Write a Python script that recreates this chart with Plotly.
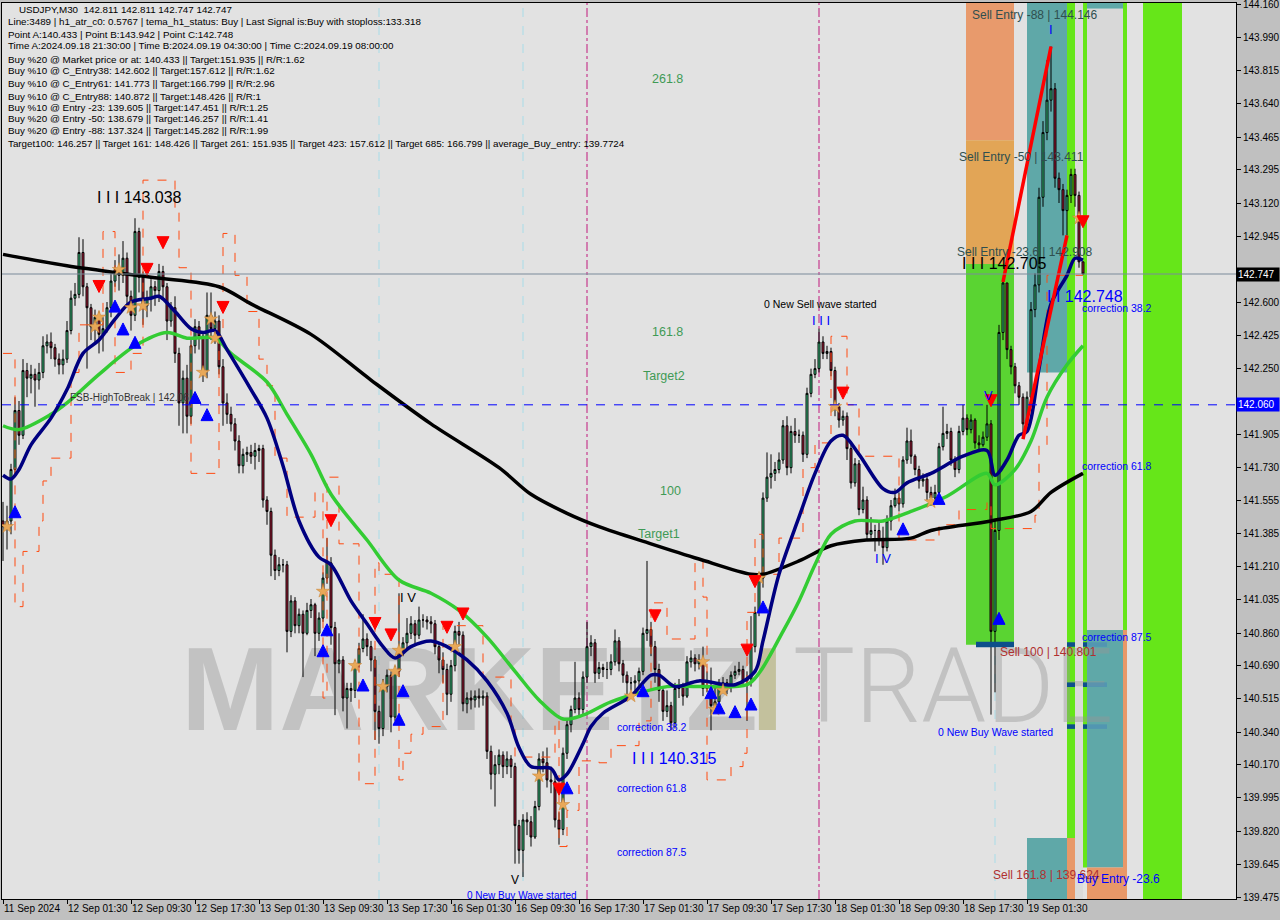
import plotly.graph_objects as go

# ---------------- data ----------------
open_first = 141.45
closes = [
141.42,141.45,141.72,142.03,141.90,142.24,142.20,142.22,142.19,142.23,
142.37,142.39,142.36,142.30,142.27,142.30,142.45,142.62,142.64,142.86,
142.68,142.57,142.47,142.52,142.43,142.46,142.57,142.71,142.77,142.74,
142.83,142.63,142.53,142.97,142.73,142.58,142.62,142.68,142.66,142.76,
142.68,142.50,142.57,142.33,142.07,142.20,142.00,142.37,142.47,142.42,
142.24,142.53,142.46,142.50,142.26,142.07,142.01,141.96,141.87,141.74,
141.80,141.81,141.79,141.82,141.83,141.56,141.50,141.27,141.19,141.22,
141.22,140.87,141.03,140.90,140.96,140.86,140.98,141.01,140.86,140.94,
141.15,141.23,140.89,140.70,140.72,140.52,140.57,140.56,140.70,140.78,
140.83,140.79,140.72,140.45,140.36,140.58,140.64,140.42,140.66,140.77,
140.81,140.86,140.91,140.85,140.93,140.93,140.92,140.91,140.79,140.72,
140.67,140.54,140.69,140.87,140.85,140.49,140.52,140.51,140.53,140.52,
140.53,140.24,140.12,140.17,140.22,140.16,140.20,140.16,139.85,139.72,
139.88,139.87,139.79,139.95,140.20,140.18,140.09,140.08,139.88,139.83,
140.23,140.38,140.46,140.52,140.46,140.63,140.79,140.81,140.65,140.68,
140.67,140.67,140.71,140.82,140.70,140.64,140.60,140.60,140.61,140.66,
140.86,140.88,140.79,140.67,140.56,140.45,140.48,140.39,140.57,140.58,
140.53,140.71,140.73,140.70,140.72,140.57,140.58,140.48,140.50,140.59,
140.60,140.58,140.64,140.66,140.67,140.61,140.62,140.79,140.97,141.15,
141.57,141.68,141.70,141.72,141.77,141.95,141.73,141.92,141.90,141.90,
141.80,142.12,142.22,142.25,142.39,142.33,142.34,142.24,142.05,141.98,
142.00,141.83,141.65,141.75,141.51,141.56,141.38,141.40,141.40,141.35,
141.31,141.45,141.53,141.57,141.54,141.77,141.87,141.79,141.72,141.66,
141.67,141.60,141.57,141.60,141.84,141.91,141.92,141.77,141.72,141.92,
141.99,141.93,141.98,141.86,141.85,141.89,141.96,140.87,141.40,142.44,
142.70,142.35,142.26,142.16,142.10,141.96,142.10,142.56,142.69,143.15,
143.49,143.66,143.72,143.25,143.19,143.08,143.16,143.27,143.16,142.811,
142.747]
highs = [
141.55,141.53,141.75,142.10,142.08,142.30,142.28,142.27,142.25,142.28,
142.42,142.43,142.44,142.38,142.33,142.35,142.50,142.66,142.70,142.94,
142.93,142.70,142.59,142.56,142.55,142.52,142.60,142.75,142.82,142.85,
142.92,142.86,142.66,143.04,142.99,142.76,142.66,142.72,142.71,142.80,
142.79,142.70,142.60,142.63,142.36,142.24,142.27,142.40,142.51,142.50,
142.44,142.65,142.65,142.55,142.53,142.30,142.12,142.05,141.99,141.90,
141.83,141.84,141.85,141.86,141.85,141.85,141.58,141.52,141.30,141.26,
141.25,141.24,141.06,141.05,140.99,140.98,141.02,141.04,141.02,140.97,
141.18,141.36,141.26,140.92,140.86,140.74,140.60,140.60,140.72,140.81,
140.96,140.86,140.82,140.74,140.48,140.62,140.67,140.66,140.69,141.07,
140.84,140.94,140.95,140.93,141.00,140.96,140.95,140.95,140.93,140.81,
140.76,140.70,140.72,140.90,140.92,140.87,140.55,140.56,140.56,140.57,
140.56,140.55,140.27,140.22,140.25,140.24,140.24,140.22,140.18,139.88,
139.91,139.92,139.90,139.98,140.23,140.24,140.26,140.16,140.11,139.92,
140.26,140.41,140.48,140.71,140.55,140.66,140.92,140.85,140.83,140.71,
140.70,140.71,140.75,140.88,140.84,140.72,140.66,140.63,140.64,140.68,
140.89,141.24,140.92,140.82,140.70,140.58,140.56,140.50,140.60,140.62,
140.60,140.74,140.77,140.75,140.75,140.79,140.66,140.68,140.58,140.62,
140.63,140.62,140.66,140.69,140.71,140.69,140.66,140.95,141.00,141.18,
141.60,141.81,141.80,141.76,141.81,141.98,142.00,141.95,141.99,141.93,
141.92,142.15,142.25,142.30,142.46,142.42,142.37,142.36,142.26,142.07,
142.03,142.02,141.85,141.78,141.77,141.63,141.58,141.47,141.43,141.44,
141.42,141.48,141.56,141.62,141.60,141.79,141.94,141.93,141.80,141.74,
141.70,141.70,141.63,141.64,141.86,142.05,141.96,141.94,141.79,141.95,
142.06,142.01,142.01,141.99,141.90,141.92,142.06,141.98,141.45,142.48,
142.705,142.70,142.37,142.28,142.18,142.12,142.13,142.60,142.75,143.20,
143.55,143.87,143.942,143.75,143.28,143.22,143.19,143.30,143.30,143.18,
142.811]
lows = [
141.24,141.30,141.38,141.68,141.85,141.88,142.10,142.12,142.05,142.14,
142.20,142.33,142.30,142.26,142.22,142.22,142.28,142.43,142.58,142.62,
142.63,142.25,142.40,142.38,142.33,142.34,142.44,142.52,142.68,142.66,
142.70,142.58,142.45,142.50,142.65,142.48,142.52,142.55,142.58,142.60,
142.62,142.40,142.47,142.28,141.95,141.91,141.91,141.96,142.33,142.35,
142.18,142.20,142.40,142.38,142.22,141.95,141.96,141.92,141.82,141.70,
141.70,141.76,141.75,141.72,141.76,141.52,141.43,141.16,141.14,141.16,
141.18,140.76,140.84,140.86,140.86,140.63,140.85,140.94,140.74,140.82,
140.92,141.12,140.80,140.43,140.65,140.45,140.36,140.50,140.52,140.68,
140.76,140.74,140.66,140.30,140.28,140.32,140.55,140.34,140.40,140.63,
140.74,140.78,140.83,140.80,140.83,140.89,140.88,140.86,140.75,140.65,
140.60,140.43,140.50,140.66,140.80,140.45,140.44,140.46,140.47,140.47,
140.48,140.20,140.04,139.95,140.12,140.10,140.12,140.10,139.65,139.65,
139.58,139.80,139.74,139.78,139.93,140.13,140.05,140.02,139.84,139.75,
139.80,140.20,140.34,140.44,140.42,140.43,140.60,140.74,140.60,140.62,
140.63,140.62,140.64,140.69,140.66,140.60,140.52,140.56,140.56,140.58,
140.64,140.82,140.74,140.60,140.50,140.40,140.42,140.35,140.36,140.52,
140.48,140.52,140.68,140.66,140.67,140.53,140.55,140.35,140.46,140.47,
140.55,140.54,140.55,140.62,140.64,140.58,140.40,140.58,140.76,140.95,
141.10,141.55,141.62,141.66,141.70,141.75,141.69,141.70,141.86,141.86,
141.76,141.78,142.10,142.20,142.23,142.30,142.30,142.21,142.00,141.94,
141.95,141.77,141.62,141.63,141.48,141.49,141.35,141.36,141.29,141.32,
141.22,141.29,141.40,141.52,141.50,141.52,141.75,141.75,141.69,141.62,
141.63,141.56,141.53,141.55,141.58,141.82,141.88,141.74,141.68,141.70,
141.90,141.90,141.91,141.83,141.82,141.84,141.87,140.433,140.55,141.35,
142.40,142.30,142.22,142.12,142.06,141.88,141.92,142.05,142.52,142.65,
143.10,143.45,143.60,143.20,143.12,142.95,142.95,143.12,143.10,142.78,
142.747]

# slow MA (black), medium MA (green), fast MA (navy): sampled (bar, price)
black_bars = [0,16,37,54,62,77,92,107,124,132,141,149,162,174,187,190,199,207,216,227,232,247,257,262,270]
black_vals = [142.85,142.79,142.73,142.68,142.59,142.43,142.19,141.96,141.73,141.59,141.49,141.42,141.33,141.25,141.17,141.17,141.24,141.32,141.35,141.36,141.40,141.45,141.50,141.60,141.70]
green_bars = [0,4,12,16,24,33,41,46,53,57,66,71,77,82,91,99,107,114,121,128,134,140,145,152,166,174,186,189,195,199,203,207,213,220,227,236,246,248,253,257,261,266,270]
green_vals = [141.95,141.93,142.01,142.07,142.22,142.37,142.44,142.41,142.41,142.33,142.18,142.01,141.80,141.59,141.35,141.14,141.07,140.98,140.84,140.66,140.51,140.41,140.43,140.50,140.58,140.58,140.59,140.65,140.87,141.03,141.22,141.38,141.45,141.45,141.50,141.58,141.70,141.64,141.72,141.87,142.10,142.27,142.37]
navy_bars = [0,2,4,7,12,16,20,24,28,32,37,39,43,47,50,53,56,62,66,70,74,79,82,87,91,95,98,102,107,111,116,121,126,129,132,137,139,141,145,147,150,157,162,164,168,174,183,188,190,194,199,203,207,210,214,220,223,226,232,240,246,248,251,254,256,259,262,266,268,270]
navy_vals = [141.69,141.67,141.72,141.85,141.99,142.14,142.33,142.40,142.51,142.60,142.62,142.63,142.55,142.46,142.44,142.45,142.35,142.14,141.99,141.74,141.45,141.26,141.22,141.03,140.91,140.79,140.73,140.79,140.82,140.79,140.72,140.61,140.44,140.26,140.16,140.15,140.09,140.12,140.28,140.37,140.44,140.53,140.64,140.64,140.58,140.61,140.59,140.66,140.82,141.17,141.47,141.70,141.87,141.90,141.80,141.62,141.60,141.65,141.70,141.79,141.82,141.69,141.77,141.90,141.92,142.25,142.59,142.74,142.83,142.82]
# stepped envelope (orange dashed)
orange_bars = [0,3,5,9,10,12,17,19,25,28,32,35,43,44,47,54,55,58,61,64,66,68,71,78,80,81,84,89,93,94,99,100,102,105,110,120,127,128,138,139,141,144,149,152,159,162,166,173,175,176,182,185,186,188,190,194,200,203,207,211,214,224,234,239,246,247,258,259,261,270]
orange_vals = [142.33,141.00,141.29,141.45,141.66,141.78,142.23,142.48,142.97,142.23,142.33,143.24,143.08,142.78,141.70,142.45,142.96,142.74,142.55,142.30,142.16,141.78,141.47,141.60,140.52,141.68,141.33,140.07,141.23,141.17,140.09,140.23,140.33,140.37,140.90,140.63,140.38,140.21,140.40,139.74,139.93,140.19,140.18,140.27,140.40,141.02,140.83,141.24,141.05,140.09,140.16,140.23,140.97,141.38,141.17,141.36,141.73,141.86,142.42,142.06,141.79,141.35,141.43,141.51,141.55,141.41,141.48,141.85,142.74,142.74]

red_arrow_bars = [24,36,40,55,82,93,97,111,115,139,163,186,188,210,247,270]
red_arrow_vals = [142.65,142.74,142.88,142.54,141.42,140.88,140.82,140.86,140.93,140.01,140.92,140.74,141.10,142.09,142.05,142.99]
blue_arrow_bars = [3,28,30,33,48,51,80,81,90,99,100,141,160,177,179,183,187,190,225,234,249]
blue_arrow_vals = [141.53,142.61,142.49,142.42,142.13,142.04,140.80,140.91,140.62,140.44,140.59,140.08,140.59,140.58,140.50,140.48,140.52,141.03,141.44,141.60,140.97]
star_bars = [1,23,24,29,32,35,50,52,53,80,88,95,99,98,113,134,140,157,175,178,180,189,208,232,269]
star_vals = [141.42,142.47,142.52,142.77,142.57,142.58,142.23,142.51,142.41,141.08,140.69,140.58,140.77,140.66,140.79,140.11,139.96,140.53,140.71,140.46,140.56,141.15,142.05,141.55,143.04]

date_tick_bars = [0,16,32,48,64,80,96,112,128,144,160,176,192,208,224,240,256]
date_tick_labels = ["11 Sep 2024","12 Sep 01:30","12 Sep 09:30","12 Sep 17:30","13 Sep 01:30",
                    "13 Sep 09:30","13 Sep 17:30","16 Sep 01:30","16 Sep 09:30","16 Sep 17:30",
                    "17 Sep 01:30","17 Sep 09:30","17 Sep 17:30","18 Sep 01:30","18 Sep 09:30",
                    "18 Sep 17:30","19 Sep 01:30"]
price_ticks = [144.160,143.990,143.815,143.640,143.465,143.295,143.120,142.945,142.775,142.600,
               142.425,142.250,142.075,141.905,141.730,141.555,141.385,141.210,141.035,140.860,
               140.690,140.515,140.340,140.170,139.995,139.820,139.645,139.475]
hidden_ticks = [142.775, 142.075]   # covered by the price boxes

info_lines = [
    "    USDJPY,M30  142.811 142.811 142.747 142.747",
    "Line:3489 | h1_atr_c0: 0.5767 | tema_h1_status: Buy | Last Signal is:Buy with stoploss:133.318",
    "Point A:140.433 | Point B:143.942 | Point C:142.748",
    "Time A:2024.09.18 21:30:00 | Time B:2024.09.19 04:30:00 | Time C:2024.09.19 08:00:00",
    "Buy %20 @ Market price or at: 140.433 || Target:151.935 || R/R:1.62",
    "Buy %10 @ C_Entry38: 142.602 || Target:157.612 || R/R:1.62",
    "Buy %10 @ C_Entry61: 141.773 || Target:166.799 || R/R:2.96",
    "Buy %10 @ C_Entry88: 140.872 || Target:148.426 || R/R:1",
    "Buy %10 @ Entry -23: 139.605 || Target:147.451 || R/R:1.25",
    "Buy %20 @ Entry -50: 138.679 || Target:146.257 || R/R:1.41",
    "Buy %20 @ Entry -88: 137.324 || Target:145.282 || R/R:1.99",
    "Target100: 146.257 || Target 161: 148.426 || Target 261: 151.935 || Target 423: 157.612 || Target 685: 166.799 || average_Buy_entry: 139.7724",
]
info_y_px = [9, 22, 34, 46, 59, 71, 84, 96, 107, 119, 131, 143]

last_price = 142.747
fsb_price = 142.060

# ---------------- geometry ----------------
W, H = 1280, 920
ML, MR, MT, MB = 2, 44, 3, 21
PW, PH = W - ML - MR, H - MT - MB
X0, X1 = -0.25, 308.25
Y0, Y1 = 139.4645, 144.1704

n = min(len(closes), len(highs), len(lows))
bars = list(range(n))
opens = [open_first] + closes[:n - 1]
hi = [max(highs[i], opens[i], closes[i]) for i in range(n)]
lo = [min(lows[i], opens[i], closes[i]) for i in range(n)]

fig = go.Figure()
fig.add_trace(go.Candlestick(
    x=bars, open=opens, high=hi, low=lo, close=closes[:n],
    increasing=dict(line=dict(color="#000000", width=1), fillcolor="#3fd68d"),
    decreasing=dict(line=dict(color="#000000", width=1), fillcolor="#b51c3c"),
    whiskerwidth=0, showlegend=False, hoverinfo="skip"))

fig.add_trace(go.Scatter(x=orange_bars, y=orange_vals, mode="lines",
                         line=dict(color="#ff4a10", width=1, dash="dash", shape="hv"),
                         showlegend=False, hoverinfo="skip"))
fig.add_trace(go.Scatter(x=black_bars, y=black_vals, mode="lines",
                         line=dict(color="#000000", width=3.5, shape="spline", smoothing=0.9),
                         showlegend=False, hoverinfo="skip"))
fig.add_trace(go.Scatter(x=green_bars, y=green_vals, mode="lines",
                         line=dict(color="#33cc33", width=3.5, shape="spline", smoothing=0.9),
                         showlegend=False, hoverinfo="skip"))
fig.add_trace(go.Scatter(x=navy_bars, y=navy_vals, mode="lines",
                         line=dict(color="#000080", width=3.5, shape="spline", smoothing=0.9),
                         showlegend=False, hoverinfo="skip"))
fig.add_trace(go.Scatter(x=star_bars, y=star_vals, mode="markers",
                         marker=dict(symbol="star", size=10, color="#e8a858",
                                     line=dict(color="#c88030", width=0.5)),
                         showlegend=False, hoverinfo="skip"))
fig.add_trace(go.Scatter(x=red_arrow_bars, y=red_arrow_vals, mode="markers",
                         marker=dict(symbol="arrow-down", size=12, color="#ff0000",
                                     line=dict(color="#ff0000", width=1)),
                         showlegend=False, hoverinfo="skip"))
fig.add_trace(go.Scatter(x=blue_arrow_bars, y=blue_arrow_vals, mode="markers",
                         marker=dict(symbol="arrow-up", size=12, color="#0000ff",
                                     line=dict(color="#0000ff", width=1)),
                         showlegend=False, hoverinfo="skip"))
# Trend lines (wave A-B and C leg)
fig.add_trace(go.Scatter(x=[250, 262], y=[142.705, 143.942], mode="lines",
                         line=dict(color="#ff0000", width=3.5), showlegend=False, hoverinfo="skip"))
fig.add_trace(go.Scatter(x=[255, 266], y=[141.88, 142.95], mode="lines",
                         line=dict(color="#ff0000", width=3.5), showlegend=False, hoverinfo="skip"))

shapes = []
def rect(x0, x1, y0, y1, color, layer="below", opacity=1.0):
    shapes.append(dict(type="rect", xref="x", yref="y", x0=x0, x1=x1, y0=y0, y1=y1,
                       fillcolor=color, line=dict(width=0), layer=layer, opacity=opacity))

TOP = Y1
BOT = Y0
# zone boxes
rect(240.75, 252.75, 143.45, TOP, "#e89a6c")
rect(240.75, 252.75, 142.80, 143.45, "#e2a556")
rect(240.75, 252.75, 140.80, 142.80, "#5ad432")
rect(256, 266, 142.23, TOP, "#5fa8a8")
rect(256, 266, BOT, 139.785, "#5fa8a8")
rect(266, 268, 139.785, TOP, "#66e619")
rect(266, 268, BOT, 139.785, "#e89868")
rect(268, 270, BOT, TOP, "#dadada")
rect(270, 271, 139.63, TOP, "#66e619")
rect(271, 280, 144.14, TOP, "#5fa8a8")
rect(271, 280, 140.877, 144.14, "#d8d8d8")
rect(271, 280, 139.63, 140.877, "#5fa8a8")
rect(280, 281, 140.877, TOP, "#66e619")
rect(280, 281, BOT, 140.877, "#e89868")
rect(271, 280, BOT, 139.63, "#e89868")
rect(285, 294.75, BOT, TOP, "#66e619")
# navy level marks
for lvl in [140.801, 140.59, 140.37]:
    rect(266, 268, lvl - 0.012, lvl + 0.012, "#0d4f8b", layer="above")
    rect(270, 271, lvl - 0.012, lvl + 0.012, "#0d4f8b", layer="above")
    rect(271, 276, lvl - 0.012, lvl + 0.012, "#4a8ab8", layer="above", opacity=0.6)
rect(243.25, 252.75, 140.801 - 0.014, 140.801 + 0.014, "#0d4f8b", layer="above")

# watermark
def wm(x0, yc, text, color, size, weight, family):
    shapes.append(dict(type="rect", xref="x", yref="y", x0=x0, x1=x0 + 40, y0=yc - 0.3, y1=yc + 0.3,
                       line=dict(width=0), fillcolor="rgba(0,0,0,0)", layer="below",
                       label=dict(text=text, textposition="middle left", padding=0,
                                  font=dict(size=size, color=color, family=family, weight=weight))))
wm(43.75, 140.625, "MARKETZ", "rgba(150,150,150,0.42)", 118, 900, "Liberation Sans")
wm(186.25, 140.625, "I", "rgba(170,165,100,0.55)", 118, 900, "Liberation Sans")
wm(196.75, 140.625, "TRADE", "rgba(150,150,150,0.42)", 104, 300, "Roboto")

# vertical separators
for b in [94, 130, 248]:
    shapes.append(dict(type="line", xref="x", yref="paper", x0=b, x1=b, y0=0, y1=1,
                       line=dict(color="#a8dce8", width=1, dash="dash"), layer="below"))
for b in [146, 204]:
    shapes.append(dict(type="line", xref="x", yref="paper", x0=b, x1=b, y0=0, y1=1,
                       line=dict(color="#c0187c", width=1, dash="dashdot"), layer="below"))
# horizontal price lines
shapes.append(dict(type="line", xref="paper", yref="y", x0=0, x1=1, y0=last_price, y1=last_price,
                   line=dict(color="#7a8a9a", width=1), layer="above"))
shapes.append(dict(type="line", xref="paper", yref="y", x0=0, x1=1, y0=fsb_price, y1=fsb_price,
                   line=dict(color="#0000ff", width=1, dash="dash"), layer="above"))

ann = []
def px2paper_x(px):
    return (px - ML) / PW
def py2paper_y(py):
    return 1 - (py - MT) / PH

for t, py in zip(info_lines, info_y_px):
    ann.append(dict(xref="paper", yref="paper", x=px2paper_x(6), y=py2paper_y(py), text=t,
                    xanchor="left", yanchor="middle", showarrow=False,
                    font=dict(family="Liberation Sans", size=9.8, color="#000000")))

def lab(b, p, text, color, size, anchor="left"):
    ann.append(dict(xref="x", yref="y", x=b, y=p, text=text, xanchor=anchor, yanchor="middle",
                    showarrow=False, font=dict(family="Liberation Sans", size=size, color=color)))

slate = "#2f4f4f"
brown = "#b03030"
blue = "#0000ff"
grn = "#3f9a55"
lab(241.75, 144.107, "Sell Entry -88 | 144.146", slate, 12)
lab(238.5, 143.362, "Sell Entry -50 | 143.411", slate, 12)
lab(238.0, 142.863, "Sell Entry -23.6 | 142.908", slate, 12)
lab(239.25, 142.80, "I I I 142.705", "#000000", 16)
lab(260.5, 142.63, "I I 142.748", blue, 16)
lab(269.25, 142.57, "correction 38.2", blue, 10.5)
lab(269.25, 141.74, "correction 61.8", blue, 10.5)
lab(269.25, 140.84, "correction 87.5", blue, 10.5)
lab(248.75, 140.76, "Sell 100 | 140.801", brown, 12)
lab(233.25, 140.34, "0 New Buy Wave started", blue, 10.5)
lab(247.0, 139.59, "Sell 161.8 | 139.624", brown, 12)
lab(268.0, 139.57, "Buy Entry -23.6", blue, 12)
lab(189.75, 142.59, "0 New Sell wave started", "#000000", 10.5)
lab(201.75, 142.505, "I I I", blue, 13)
lab(161.75, 143.77, "261.8", grn, 12.5)
lab(161.75, 142.44, "161.8", grn, 12.5)
lab(159.5, 142.21, "Target2", grn, 12.5)
lab(163.75, 141.61, "100", grn, 12.5)
lab(158.25, 141.38, "Target1", grn, 12.5)
lab(217.5, 141.255, "I V", blue, 13)
lab(244.75, 142.11, "V", blue, 13)
lab(23.0, 143.15, "I I I 143.038", "#000000", 16)
lab(98.75, 141.05, "I V", "#000000", 13)
lab(126.5, 139.565, "V", "#000000", 12)
lab(115.5, 139.485, "0 New Buy Wave started", blue, 10)
lab(153.0, 140.37, "correction 38.2", blue, 10.5)
lab(156.75, 140.20, "I I I 140.315", blue, 16)
lab(153.0, 140.05, "correction 61.8", blue, 10.5)
lab(153.0, 139.71, "correction 87.5", blue, 10.5)
lab(16.25, 142.10, "FSB-HighToBreak | 142.06", "#333333", 10)
lab(261.0, 144.03, "I", blue, 13)

# price boxes on the right axis
ann.append(dict(xref="paper", yref="y", x=1, y=last_price, xanchor="left", yanchor="middle",
                text="142.747", showarrow=False, bgcolor="#000000", borderpad=1, width=40, align="left",
                font=dict(family="Liberation Sans", size=10, color="#ffffff")))
ann.append(dict(xref="paper", yref="y", x=1, y=fsb_price, xanchor="left", yanchor="middle",
                text="142.060", showarrow=False, bgcolor="#0000ff", borderpad=1, width=40, align="left",
                font=dict(family="Liberation Sans", size=10, color="#ffffff")))

fig.update_layout(
    width=W, height=H, margin=dict(l=ML, r=MR, t=MT, b=MB, autoexpand=False),
    paper_bgcolor="#c0c0c0", plot_bgcolor="#e2e2e2",
    showlegend=False, shapes=shapes, annotations=ann,
    xaxis=dict(range=[X0, X1], tickvals=date_tick_bars, ticktext=date_tick_labels,
               ticks="outside", ticklen=4, tickcolor="#000000", showgrid=False, zeroline=False,
               showline=True, linecolor="#000000", linewidth=1, mirror=True, automargin=False,
               tickangle=0, rangeslider=dict(visible=False), ticklabelposition="outside right",
               ticklabeloverflow="allow",
               tickfont=dict(family="Liberation Sans", size=10, color="#000000")),
    yaxis=dict(range=[Y0, Y1], side="right", tickvals=price_ticks,
               ticktext=["" if v in hidden_ticks else f"{v:.3f}" for v in price_ticks],
               ticks="outside", ticklen=4, tickcolor="#000000", showgrid=False, zeroline=False,
               showline=True, linecolor="#000000", linewidth=1, mirror=True, automargin=False,
               ticklabeloverflow="allow",
               tickfont=dict(family="Liberation Sans", size=10, color="#000000")),
)

fig.write_html("out.html",
               config={"displayModeBar": False},
               post_script="document.body.style.margin='0';document.body.style.padding='0';"
                           "document.body.style.overflow='hidden';")
